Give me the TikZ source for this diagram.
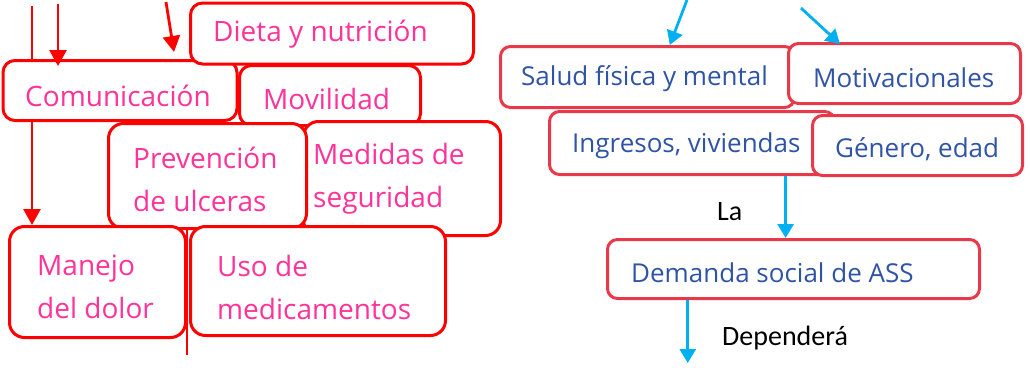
\documentclass[tikz,border=0pt]{standalone}
\usepackage{fontspec}
\setmainfont{Open Sans}
\newfontfamily\labfont{Carlito}
\usetikzlibrary{arrows.meta,calc}
\definecolor{pinktxt}{RGB}{255,51,153}
\definecolor{redline}{RGB}{255,0,0}
\definecolor{rline}{RGB}{232,57,74}
\definecolor{bluetxt}{RGB}{47,84,165}
\definecolor{cyanarrow}{RGB}{0,176,240}
\begin{document}
\begin{tikzpicture}[x=1pt,y=-1pt,
  lbox/.style={draw=redline, line width=3pt, fill=white, rounded corners=12pt, inner sep=0pt, anchor=north west},
  rbox/.style={draw=rline, line width=3pt, fill=white, rounded corners=10pt, inner sep=0pt, anchor=north west},
  ltxt/.style={text=pinktxt, font=\fontsize{28}{43}\selectfont, inner sep=0pt, anchor=west, align=left},
  rtxt/.style={text=bluetxt, font=\fontsize{26}{32}\selectfont, inner sep=0pt, anchor=west},
  labtxt/.style={text=black, font=\labfont\fontsize{28}{32}\selectfont, inner sep=0pt, anchor=west},
  redln/.style={draw=redline, line width=2.8pt},
  redarrow/.style={redln, -{Triangle[width=17pt,length=16pt]}},
  bluearrow/.style={draw=cyanarrow, line width=2.8pt, -{Triangle[width=16pt,length=14pt]}}
]
\useasboundingbox (0,0) rectangle (1030,367);

% left boxes
\node[lbox, minimum width=234pt, minimum height=60pt] (comm) at (1.5,59) {};
\node[lbox, minimum width=283pt, minimum height=61pt] (dieta) at (189,1.5) {};
\node[lbox, minimum width=181pt, minimum height=60pt] (movil) at (238,64) {};
\node[lbox, rounded corners=15pt, minimum width=197pt, minimum height=114pt] (medidas) at (302,120) {};
\node[lbox, rounded corners=15pt, minimum width=198pt, minimum height=105pt] (prev) at (107,122) {};
\node[lbox, rounded corners=15pt, minimum width=176pt, minimum height=111pt] (manejo) at (8,225) {};
\node[lbox, rounded corners=15pt, minimum width=255pt, minimum height=109pt] (uso) at (189,225) {};

% left texts
\node[ltxt] (tdieta) at (213,34) {Dieta y nutrición};
\node[ltxt] (tcomm) at (25,96) {Comunicación};
\node[ltxt] (tmovil) at (263,99) {Movilidad};
\node[ltxt] (tprev) at (133,179) {Prevención\\de ulceras};
\node[ltxt] (tmed) at (313,179) {Medidas de\\seguridad};
\node[ltxt] (tman) at (37,287) {Manejo\\del dolor};
\node[ltxt] (tuso) at (217,287) {Uso de\\medicamentos};

% left connectors
\coordinate (l1) at (32,6);
\draw[redln] (l1) -- (l1 |- comm.north);
\draw[redarrow] (l1 |- comm.south) -- (l1 |- manejo.north);
\coordinate (l2) at (58,4);
\draw[redarrow, shorten >=-7pt] (l2) -- (l2 |- comm.north);
\coordinate (l3s) at (166,2);
\coordinate (l3e) at (174,52);
\draw[redarrow] (l3s) -- (l3e);
\coordinate (l4s) at (187,228);
\coordinate (l4e) at (187,355);
\draw[redln] (l4s) -- (l4e);

% right boxes
\node[rbox, minimum width=294pt, minimum height=61pt] (salud) at (499,45) {};
\node[rbox, minimum width=232pt, minimum height=60pt] (motiv) at (787,42) {};
\node[rbox, minimum width=285pt, minimum height=63pt] (ingr) at (548,110) {};
\node[rbox, minimum width=210pt, minimum height=60pt] (genero) at (811,114) {};
\node[rbox, minimum width=372pt, minimum height=59pt] (demanda) at (606,238) {};

% right texts
\node[rtxt] (tsalud) at (521,79) {Salud física y mental};
\node[rtxt] (tmotiv) at (813,78) {Motivacionales};
\node[rtxt] (tingr) at (572,146) {Ingresos, viviendas};
\node[rtxt] (tgen) at (835,149) {Género, edad};
\node[rtxt] (tdem) at (631,273) {Demanda social de ASS};

% labels
\node[labtxt] (la) at (717,212) {La};
\node[labtxt] (dep) at (722,338) {Dependerá};

% right connectors
\coordinate (b1s) at (687,0);
\draw[bluearrow] (b1s) -- ($(salud.north west)!0.575!(salud.north east)$);
\coordinate (b2s) at (801,8);
\draw[bluearrow, shorten >=-3pt] (b2s) -- ($(motiv.north west)!0.216!(motiv.north east)$);
\path ($(ingr.south west)!0.825!(ingr.south east)$) coordinate (b3s);
\draw[bluearrow] (b3s) -- (b3s |- demanda.north);
\path ($(demanda.south west)!0.218!(demanda.south east)$) coordinate (b4s);
\coordinate (b4e) at (687,363);
\draw[bluearrow] (b4s) -- (b4s |- b4e);
\end{tikzpicture}
\end{document}
